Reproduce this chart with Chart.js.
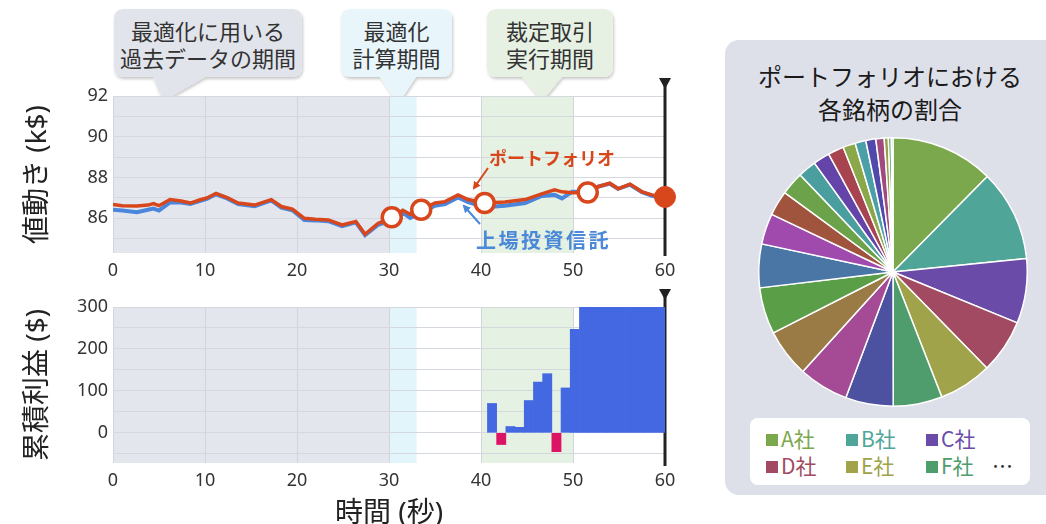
<!DOCTYPE html>
<html>
<head>
<meta charset="utf-8">
<script src="https://cdn.jsdelivr.net/npm/chart.js@4.4.1/dist/chart.umd.min.js"></script>
<style>
body { margin:0; width:1046px; height:524px; position:relative; overflow:hidden; background:#fff;
       font-family:"Noto Sans CJK JP","Noto Sans",sans-serif; }
canvas, .abs { position:absolute; }
.bubble { position:absolute; text-align:center; font-size:22px; line-height:27px; color:#333; }
.panel { position:absolute; left:725px; top:40px; width:340px; height:455px; background:#dee0e9; border-radius:14px; }
.pie-title { position:absolute; left:725px; top:59px; width:330px; text-align:center; font-size:24px; line-height:33px; color:#1a1a1a; }
.legend { position:absolute; left:750px; top:418px; width:280px; height:67px; background:#fff; border-radius:8px; }
.item { position:absolute; font-size:21px; line-height:24px; white-space:nowrap; }
.item i { display:inline-block; width:12px; height:12px; margin-right:3px; vertical-align:1px; }
.note { position:absolute; font-weight:bold; white-space:nowrap; }
</style>
</head>
<body>

<svg class="abs" style="left:0;top:0" width="700" height="112">
  <defs>
    <filter id="sh" x="-10%" y="-10%" width="130%" height="140%">
      <feDropShadow dx="1" dy="2" stdDeviation="1.5" flood-color="#000" flood-opacity="0.22"/>
    </filter>
  </defs>
  <path d="M124 9 H292 Q302 9 302 19 V67 Q302 77 292 77 H205 L163 101 L153 77 H124 Q114 77 114 67 V19 Q114 9 124 9 Z" fill="#e2e4eb" filter="url(#sh)"/>
  <path d="M351 9 H442 Q452 9 452 19 V67 Q452 77 442 77 H416 L398 104 L380 77 H351 Q341 77 341 67 V19 Q341 9 351 9 Z" fill="#e8f6fb" filter="url(#sh)"/>
  <path d="M497 9 H603 Q613 9 613 19 V67 Q613 77 603 77 H562 L542 101 L522 77 H497 Q487 77 487 67 V19 Q487 9 497 9 Z" fill="#e6f1e3" filter="url(#sh)"/>
</svg>
<div class="bubble" style="left:114px;top:17px;width:188px">最適化に用いる<br>過去データの期間</div>
<div class="bubble" style="left:341px;top:17px;width:111px">最適化<br>計算期間</div>
<div class="bubble" style="left:487px;top:17px;width:126px">裁定取引<br>実行期間</div>

<canvas id="priceChart" width="690" height="215" style="left:0;top:70px"></canvas>
<canvas id="profitChart" width="690" height="239" style="left:0;top:285px"></canvas>

<svg class="abs" style="left:0;top:0" width="700" height="300">
  <defs>
    <marker id="ar" markerWidth="8" markerHeight="8" refX="6" refY="4" orient="auto" markerUnits="userSpaceOnUse">
      <path d="M0 0 L8 4 L0 8 Z" fill="#d8461c"/>
    </marker>
    <marker id="ab" markerWidth="8" markerHeight="8" refX="6" refY="4" orient="auto" markerUnits="userSpaceOnUse">
      <path d="M0 0 L8 4 L0 8 Z" fill="#4a88d8"/>
    </marker>
  </defs>
  <line x1="488" y1="168" x2="474" y2="188" stroke="#d8461c" stroke-width="2" marker-end="url(#ar)"/>
  <line x1="480" y1="224" x2="464" y2="206" stroke="#4a88d8" stroke-width="2" marker-end="url(#ab)"/>
</svg>
<div class="note" style="left:489px;top:144px;font-size:18px;color:#d8461c">ポートフォリオ</div>
<div class="note" style="left:476px;top:225px;font-size:20px;letter-spacing:2.5px;color:#4a88d8">上場投資信託</div>

<div class="panel"></div>
<div class="pie-title">ポートフォリオにおける<br>各銘柄の割合</div>
<canvas id="pieChart" width="270" height="270" style="left:758px;top:137px"></canvas>
<div class="legend" id="legend"></div>

<script>
// price movement (k$), sampled along the time axis (seconds)
const timeAxis = [0, 1, 2.6, 3.8, 4.4, 5, 6.2, 7.4, 8.4, 9.4, 10.2, 11.2, 12.4, 13.6, 15.4, 17.2,
  18.3, 19.5, 20.8, 22, 23.4, 24.9, 26.4, 27.4, 28.8, 30.3, 31.5, 32.3, 33.5, 35, 36.1, 37.5,
  38.6, 40.4, 42.6, 44.8, 46.6, 48, 48.8, 49.9, 51.6, 52.7, 54, 54.9, 56.2, 57.5, 58.6, 60];
const portfolio = [86.68, 86.62, 86.6, 86.65, 86.72, 86.62, 86.92, 86.85, 86.75, 86.9, 87.0, 87.22,
  87.02, 86.75, 86.65, 86.92, 86.58, 86.45, 86.0, 85.95, 85.92, 85.68, 85.85, 85.22, 85.75, 86.05,
  86.4, 86.2, 86.42, 86.75, 86.82, 87.15, 86.92, 86.75, 86.8, 86.92, 87.2, 87.4, 87.3, 87.25,
  87.27, 87.55, 87.72, 87.45, 87.68, 87.3, 87.15, 87.05];
const etf = [86.42, 86.38, 86.3, 86.42, 86.48, 86.38, 86.78, 86.78, 86.7, 86.85, 86.95, 87.18,
  86.98, 86.7, 86.6, 86.88, 86.52, 86.4, 85.92, 85.9, 85.86, 85.62, 85.8, 85.18, 85.68, 85.9,
  86.28, 86.02, 86.28, 86.62, 86.7, 87.02, 86.8, 86.55, 86.62, 86.75, 87.1, 87.15, 86.98, 87.3,
  87.32, 87.55, 87.7, 87.45, 87.65, 87.28, 87.1, 86.95];

// rebalance points and current time
const checkTimes = [30.3, 33.5, 40.4, 51.6];
const checkValues = [86.05, 86.42, 86.75, 87.27];
const nowTime = 60;
const nowValue = 87.05;

// cumulative profit ($)
const profitTimes = [41.2, 42.2, 43.2, 44.2, 45.2, 46.2, 47.2, 48.2, 49.2, 50.2,
  51.2, 52.2, 53.2, 54.2, 55.2, 56.2, 57.2, 58.2, 59.2, 60.2];
const profitValues = [70, -28, 15, 13, 77, 121, 141, -45, 107, 247,
  300, 300, 300, 300, 300, 300, 300, 300, 300, 300];

// phases: history / optimisation / arbitrage
const bandStart = [0, 30, 40];
const bandEnd = [30, 33, 50];

// ticks (grid lines) and which of them carry a label
const xTicks = [0, 10, 20, 30, 40, 50, 60];
const priceGrid = [85, 86, 87, 88, 89, 90, 91, 92];
const priceTicks = [86, 88, 90, 92];
const profitGrid = [-50, 0, 50, 100, 150, 200, 250, 300];
const profitTicks = [0, 100, 200, 300];

// portfolio share per company (%)
const companies = ['A社', 'B社', 'C社', 'D社', 'E社', 'F社', 'G社', 'H社', 'I社', 'J社', 'K社', 'L社',
  'M社', 'N社', 'O社', 'P社', 'Q社', 'R社', 'S社', 'T社', 'U社', 'V社', 'W社', 'X社'];
const shares = [12.4, 11.0, 7.8, 6.5, 6.4, 5.9, 5.75, 6.0, 5.8, 5.6, 5.25, 3.7,
  3.0, 2.8, 2.2, 2.0, 1.9, 1.5, 1.3, 1.2, 1.0, 0.5, 0.35, 0.2];

const pieColors = ['#7ba84c', '#4fa597', '#6a4ca8', '#a24a62', '#a0a34a', '#4f9d6c', '#4c52a0', '#a54a95',
  '#9a7a45', '#5a9e48', '#4a76a6', '#a04aae', '#a0543e', '#6ca24a', '#4a9ea0', '#6444a8',
  '#a84450', '#8aa84a', '#4aa0a6', '#5048aa', '#a04a80', '#98a04a', '#58a060', '#4a8aa0'];
const bandColors = ['#e4e6ee', '#e2f5fb', '#e5f1e2'];
const RED = '#d8461c';
const BLUE = '#4a86dc';

Chart.defaults.font.family = '"Noto Sans", "Noto Sans CJK JP", sans-serif';
Chart.defaults.color = '#333';

const phasePlugin = {
  id: 'phases',
  beforeDraw(chart) {
    const {ctx, chartArea: a, scales: {x}} = chart;
    ctx.save();
    bandStart.forEach((s, i) => {
      const x0 = x.getPixelForValue(s);
      const x1 = x.getPixelForValue(bandEnd[i]);
      ctx.fillStyle = bandColors[i];
      ctx.fillRect(x0, a.top, x1 - x0, a.bottom - a.top);
    });
    ctx.restore();
  },
  beforeDatasetsDraw(chart) {
    const {ctx, chartArea: a, scales: {x}} = chart;
    const px = Math.round(x.getPixelForValue(nowTime));
    ctx.save();
    ctx.strokeStyle = '#222';
    ctx.lineWidth = 3;
    ctx.beginPath();
    ctx.moveTo(px, a.top - 12);
    ctx.lineTo(px, a.bottom + 3);
    ctx.stroke();
    ctx.fillStyle = '#222';
    ctx.beginPath();
    ctx.moveTo(px - 6, a.top - 18);
    ctx.lineTo(px + 6, a.top - 18);
    ctx.lineTo(px, a.top - 7);
    ctx.closePath();
    ctx.fill();
    ctx.restore();
  }
};

function xScale(height, withTitle) {
  return {
    type: 'linear', min: 0, max: 60, offset: false,
    ticks: { stepSize: 10, padding: 7, font: { size: 18 }, callback: v => xTicks.includes(v) ? v : '' },
    grid: { color: '#d3d5dd', drawTicks: false, offset: false },
    border: { display: false },
    title: { display: withTitle, text: '時間 (秒)', color: '#222', font: { size: 28 }, padding: { top: 0, bottom: -7 } },
    afterFit(s) { s.height = height; }
  };
}

function yScale(min, max, grid, labels, title) {
  return {
    min: min, max: max,
    afterBuildTicks(s) { s.ticks = grid.map(v => ({ value: v })); },
    ticks: { autoSkip: false, padding: 5, font: { size: 18 },
             callback: v => labels.includes(v) ? v : '' },
    grid: { color: '#d6d8df', drawTicks: false },
    border: { display: false },
    title: { display: true, text: title, color: '#222', font: { size: 28 }, padding: { top: 21 } },
    afterFit(s) { s.width = 113; }
  };
}

new Chart(document.getElementById('priceChart'), {
  type: 'line',
  data: {
    datasets: [{
      label: 'checkpoints',
      data: checkTimes.map((t, i) => ({ x: t, y: checkValues[i] })),
      showLine: false, clip: false,
      pointRadius: 9.5, pointBackgroundColor: '#fff', pointBorderColor: RED, pointBorderWidth: 3.5
    }, {
      label: 'now',
      data: [{ x: nowTime, y: nowValue }],
      showLine: false, clip: false,
      pointRadius: 10.5, pointBackgroundColor: RED, pointBorderColor: RED, pointBorderWidth: 1
    }, {
      label: 'ポートフォリオ',
      data: timeAxis.map((t, i) => ({ x: t, y: portfolio[i] })),
      borderColor: RED, borderWidth: 3.5, pointRadius: 0, tension: 0
    }, {
      label: '上場投資信託',
      data: timeAxis.map((t, i) => ({ x: t, y: etf[i] })),
      borderColor: BLUE, borderWidth: 4, pointRadius: 0, tension: 0
    }]
  },
  options: {
    responsive: false,
    animation: false,
    layout: { padding: { top: 26, right: 25, left: 0, bottom: 0 } },
    plugins: { legend: { display: false }, tooltip: { enabled: false } },
    scales: {
      x: xScale(32, false),
      y: yScale(84.3, 92, priceGrid, priceTicks, '値動き (k$)')
    }
  },
  plugins: [phasePlugin]
});

new Chart(document.getElementById('profitChart'), {
  type: 'bar',
  data: {
    datasets: [{
      label: '累積利益',
      data: profitTimes.map((t, i) => ({ x: t, y: profitValues[i] })),
      backgroundColor: profitValues.map(v => v < 0 ? '#dc1466' : '#4368e2'),
      borderWidth: 0,
      barPercentage: 1,
      categoryPercentage: 1
    }]
  },
  options: {
    responsive: false,
    animation: false,
    layout: { padding: { top: 22, right: 25, left: 0, bottom: 0 } },
    plugins: { legend: { display: false }, tooltip: { enabled: false } },
    scales: {
      x: xScale(61, true),
      y: yScale(-72, 300, profitGrid, profitTicks, '累積利益 ($)')
    }
  },
  plugins: [phasePlugin]
});

new Chart(document.getElementById('pieChart'), {
  type: 'pie',
  data: {
    labels: companies,
    datasets: [{
      data: shares,
      backgroundColor: pieColors,
      borderColor: '#fff',
      borderWidth: 1.5
    }]
  },
  options: {
    responsive: false,
    animation: false,
    layout: { padding: 0 },
    plugins: { legend: { display: false }, tooltip: { enabled: false } }
  }
});

// legend for the first six companies
const legend = document.getElementById('legend');
companies.slice(0, 6).forEach((name, i) => {
  const el = document.createElement('div');
  el.className = 'item';
  el.style.left = (16 + (i % 3) * 80) + 'px';
  el.style.top = (8 + Math.floor(i / 3) * 27) + 'px';
  el.style.color = pieColors[i];
  el.innerHTML = '<i style="background:' + pieColors[i] + '"></i>' + name;
  legend.appendChild(el);
});
const more = document.createElement('div');
more.className = 'item';
more.style.left = '242px';
more.style.top = '35px';
more.style.color = '#333';
more.textContent = '…';
legend.appendChild(more);
</script>
</body>
</html>
